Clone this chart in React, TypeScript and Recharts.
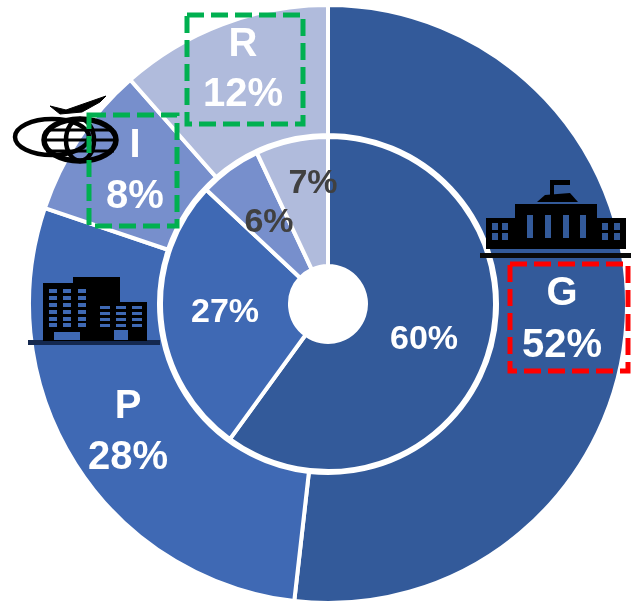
import { PieChart, Pie, Cell } from 'recharts'

const outerNames = ['G', 'P', 'I', 'R']
const outerValues = [51.8, 28.4, 8.3, 11.5]
const outerLabels = ['52%', '28%', '8%', '12%']
const innerValues = [60, 27, 6, 7]
const innerLabels = ['60%', '27%', '6%', '7%']
const colors = ['#335A9A', '#3F69B4', '#778FCC', '#B0BBDC']

const outerData = outerNames.map((name, i) => ({ name, value: outerValues[i] }))
const innerData = outerNames.map((name, i) => ({ name, value: innerValues[i] }))

// label anchors: [centre x, first baseline, second baseline]
const outerAnchors = [
  [562, 305, 357],
  [128, 418, 469],
  [135, 157, 208],
  [243, 56, 106],
]
const innerAnchors = [
  [424, 349],
  [225, 322],
  [269, 232],
  [313, 193],
]
const innerLabelColors = ['#fff', '#fff', '#404040', '#404040']

const FONT = '"Liberation Sans", Arial, sans-serif'

function outerLabel({ index }: { index: number }) {
  const [x, y1, y2] = outerAnchors[index]
  return (
    <text key={index} textAnchor="middle" fontFamily={FONT} fontWeight={700} fontSize={40} fill="#fff">
      <tspan x={x} y={y1}>{outerNames[index]}</tspan>
      <tspan x={x} y={y2}>{outerLabels[index]}</tspan>
    </text>
  )
}

function innerLabel({ index }: { index: number }) {
  const [x, y] = innerAnchors[index]
  return (
    <text key={index} x={x} y={y} textAnchor="middle" fontFamily={FONT} fontWeight={700} fontSize={34} fill={innerLabelColors[index]}>
      {innerLabels[index]}
    </text>
  )
}

function CapitolIcon() {
  return (
    <g>
      <rect x={480} y={253} width={151} height={5} fill="#0a0a0a" />
      <rect x={486} y={218} width={140} height={31} fill="#000" />
      <rect x={515} y={204} width={82} height={16} fill="#000" />
      <path d="M537 202 L545 195 L570 193 L578 202 Z" fill="#000" />
      <rect x={550} y={180} width={4} height={15} fill="#000" />
      <rect x={550} y={180} width={20} height={5} fill="#000" />
      {[527, 545, 563, 580].map((x) => (
        <rect key={x} x={x} y={215} width={6} height={23} fill="#335A9A" />
      ))}
      {[492, 502, 602, 614].map((x) => (
        <g key={x}>
          <rect x={x} y={223} width={6} height={7} fill="#335A9A" />
          <rect x={x} y={233} width={6} height={7} fill="#335A9A" />
        </g>
      ))}
    </g>
  )
}

function OfficeIcon() {
  const stripes = [289, 296, 303, 310, 317, 323]
  const lowStripes = [306, 312, 318, 324]
  return (
    <g>
      <rect x={28} y={340} width={132} height={5} fill="#14284f" />
      <rect x={43} y={283} width={32} height={58} fill="#000" />
      <rect x={73} y={277} width={47} height={64} fill="#000" />
      <rect x={97} y={302} width={50} height={39} fill="#000" />
      {[49, 63, 78].map((x) =>
        stripes.map((y) => <rect key={`${x}-${y}`} x={x} y={y} width={8} height={4} fill="#3F69B4" />),
      )}
      {[100, 116, 132].map((x) =>
        lowStripes.map((y) => <rect key={`${x}-${y}`} x={x} y={y} width={10} height={3} fill="#3F69B4" />),
      )}
      <rect x={54} y={332} width={26} height={8} fill="#3F69B4" />
      <rect x={114} y={330} width={14} height={10} fill="#3F69B4" />
    </g>
  )
}

function GlobeIcon() {
  return (
    <g fill="none" stroke="#000">
      <ellipse cx={52} cy={137} rx={37} ry={18} strokeWidth={4.5} />
      <ellipse cx={80} cy={140} rx={36} ry={21} strokeWidth={5.5} />
      <ellipse cx={80} cy={140} rx={14} ry={21} strokeWidth={4.5} />
      <line x1={46} y1={130} x2={114} y2={130} strokeWidth={3} />
      <line x1={44} y1={140} x2={116} y2={140} strokeWidth={3} />
      <line x1={46} y1={151} x2={114} y2={151} strokeWidth={3} />
      <path d="M50 106 L66 110 L106 96 L100 102 L82 112 L60 114 Z" fill="#000" strokeWidth={1} />
    </g>
  )
}

export default function App() {
  return (
    <div style={{ position: 'absolute', left: 0, top: 0, width: 631, height: 603, background: '#fff', filter: 'blur(0.6px)' }}>
      <PieChart width={631} height={603} margin={{ top: 0, right: 0, bottom: 0, left: 0 }}>
        <Pie
          data={outerData}
          dataKey="value"
          cx={328}
          cy={304}
          innerRadius={169}
          outerRadius={299}
          startAngle={90}
          endAngle={-270}
          stroke="#fff"
          strokeWidth={4}
          label={outerLabel}
          labelLine={false}
          isAnimationActive={false}
        >
          {outerData.map((d, i) => (
            <Cell key={d.name} fill={colors[i]} />
          ))}
        </Pie>
        <Pie
          data={innerData}
          dataKey="value"
          cx={328}
          cy={304}
          innerRadius={38}
          outerRadius={167}
          startAngle={90}
          endAngle={-270}
          stroke="#fff"
          strokeWidth={4}
          label={innerLabel}
          labelLine={false}
          isAnimationActive={false}
        >
          {innerData.map((d, i) => (
            <Cell key={d.name} fill={colors[i]} />
          ))}
        </Pie>
      </PieChart>
      <svg width={631} height={603} style={{ position: 'absolute', left: 0, top: 0, pointerEvents: 'none' }}>
        <CapitolIcon />
        <OfficeIcon />
        <GlobeIcon />
        <g fill="none" strokeWidth={5} strokeDasharray="17 7">
          <rect x={187} y={15} width={116} height={109} stroke="#00B050" />
          <rect x={89} y={115} width={88} height={111} stroke="#00B050" />
          <rect x={510} y={264} width={118} height={107} stroke="#FF0000" />
        </g>
      </svg>
    </div>
  )
}
